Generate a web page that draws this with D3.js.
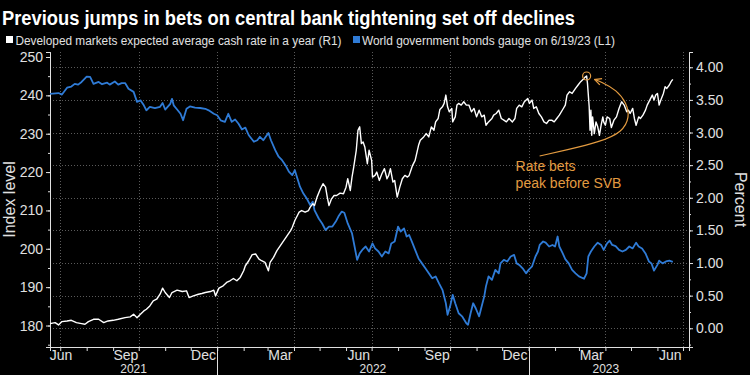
<!DOCTYPE html>
<html>
<head>
<meta charset="utf-8">
<script src="https://cdn.jsdelivr.net/npm/d3@7"></script>
<style>
  html, body { margin: 0; padding: 0; background: #000; }
  svg { display: block; }
  text { font-family: "Liberation Sans", Arial, sans-serif; }
</style>
</head>
<body>
<script>
(function () {
    'use strict';

    // ---- data (days counted from startDate) ----
    var startDate = '2021-06-19';
    var endDate = '2023-07-08';

    var rateDays = [0, 6, 10, 14, 20, 25, 31, 37, 41, 45, 51, 57, 63, 68, 74, 80, 88, 94, 98, 102,
        106, 110, 113, 117, 121, 125, 129, 132, 135, 140, 143, 149, 155, 160, 163, 168, 174, 178, 182, 188,
        192, 194, 198, 203, 207, 211, 215, 219, 223, 227, 229, 233, 237,
        241, 245, 248, 252, 256, 258, 262, 266, 270, 274, 278, 282, 284, 287, 290, 292, 295, 299, 303, 305,
        308, 310, 313, 317, 320, 323, 325, 327, 330, 333, 336, 340, 344, 347, 349, 352, 354, 356, 359, 361,
        363, 365, 367, 369, 372, 374, 377, 378, 381, 383, 386, 389, 392, 395, 397, 399, 402, 404, 407, 410,
        413, 416, 419, 421, 425, 428, 432, 434, 438, 441, 444, 447, 450, 452, 455, 457, 460, 462, 464, 466,
        468, 471, 472, 475, 477, 479, 482, 485, 488,
        491, 494, 497, 500, 503, 506, 509, 511, 514, 518, 520, 523, 526, 529, 532, 535, 538, 542, 545, 547,
        550, 553, 556, 560, 562, 565, 567, 570, 573, 576, 579, 582, 585, 588, 591, 594, 597, 601, 604, 606,
        609, 612, 616, 619, 622, 625, 627, 629, 630, 632, 633, 634, 635, 636, 638, 640, 642, 644, 646, 648,
        649, 651, 653, 656, 658, 661, 664, 667, 670, 673, 676, 678, 680, 683, 685, 687, 690, 692, 695, 698,
        700, 703, 706, 708, 710, 712, 714, 716, 719, 721, 723, 726, 728, 730];
    var rateValues = [0.071, 0.087, 0.051, 0.102, 0.112, 0.122, 0.087, 0.071, 0.061, 0.102, 0.138, 0.138, 0.087, 0.112, 0.122, 0.138, 0.163, 0.174, 0.215, 0.163,
        0.215, 0.266, 0.292, 0.343, 0.420, 0.445, 0.522, 0.615, 0.548, 0.471, 0.548, 0.584, 0.563, 0.574, 0.471, 0.497, 0.522, 0.533, 0.548, 0.563,
        0.584, 0.497, 0.615, 0.651, 0.702, 0.728, 0.763, 0.728, 0.779, 0.881, 0.958, 1.035, 1.128,
        1.138, 1.061, 1.035, 1.010, 0.881, 1.010, 1.087, 1.189, 1.266, 1.343, 1.420, 1.497, 1.548, 1.651, 1.728, 1.779, 1.804, 1.779, 1.804, 1.856,
        1.907, 1.881, 2.010, 2.138, 2.215, 2.163, 2.010, 1.881, 1.984, 2.035, 2.035, 2.071, 2.061, 2.163, 2.292, 2.112, 2.317, 2.471, 2.728, 3.035,
        3.087, 2.830, 2.856, 2.779, 2.522, 2.728, 2.574, 2.317, 2.343, 2.394, 2.266, 2.369, 2.446, 2.292, 2.343, 2.446, 2.240, 2.266, 2.010, 2.163,
        2.292, 2.343, 2.317, 2.343, 2.497, 2.574, 2.804, 2.881, 2.933, 2.984, 2.933, 3.087, 3.035, 3.163, 3.215, 3.353, 3.394, 3.446, 3.574, 3.394,
        3.318, 3.369, 3.163, 3.240, 3.420, 3.446, 3.420, 3.471, 3.420,
        3.420, 3.317, 3.369, 3.240, 3.343, 3.240, 3.266, 3.112, 3.163, 3.215, 3.266, 3.292, 3.343, 3.215, 3.189, 3.163, 3.215, 3.163, 3.215, 3.369,
        3.420, 3.394, 3.471, 3.522, 3.446, 3.497, 3.369, 3.394, 3.292, 3.240, 3.163, 3.138, 3.189, 3.189, 3.163, 3.215, 3.266, 3.353, 3.420, 3.574,
        3.625, 3.599, 3.676, 3.728, 3.779, 3.815, 3.845, 3.866, 3.753, 3.394, 3.035, 3.343, 2.958, 3.240, 2.984, 3.163, 3.087, 2.958, 3.112, 3.240,
        3.163, 3.112, 3.240, 3.215, 3.076, 3.189, 3.240, 3.369, 3.471, 3.420, 3.317, 3.343, 3.292, 3.369, 3.215, 3.112, 3.240, 3.215, 3.266, 3.343,
        3.420, 3.497, 3.574, 3.497, 3.574, 3.599, 3.420, 3.497, 3.599, 3.702, 3.676, 3.728, 3.779, 3.815];

    var bondDays = [0, 10, 14, 20, 25, 29, 33, 37, 43, 47, 51, 57, 61, 67, 70, 76, 80, 84, 88, 92,
        98, 102, 106, 110, 113, 117, 123, 129, 132, 135, 141, 143, 145, 149, 153, 156, 160, 164, 170, 176,
        182, 186, 192, 196, 200, 205, 209, 213, 217, 221, 225, 229, 233, 239,
        243, 246, 250, 256, 259, 264, 268, 272, 276, 280, 284, 287, 290, 293, 297, 301, 305, 308, 310, 315,
        319, 323, 327, 331, 335, 338, 342, 345, 349, 354, 357, 360, 363, 366, 370, 374, 378, 381, 385, 389,
        393, 397, 400, 404, 408, 411, 415, 418, 421, 425, 428, 432, 436, 440, 444, 448, 452, 456, 460, 464,
        466, 469, 472, 475, 479, 483, 488,
        490, 493, 496, 499, 503, 506, 509, 511, 514, 518, 522, 526, 528, 532, 536, 540, 544, 547, 550, 554,
        558, 561, 565, 569, 572, 574, 578, 581, 585, 589, 592, 595, 597, 601, 604, 608, 612, 616, 620, 626,
        629, 631, 634, 638, 642, 646, 649, 653, 656, 659, 663, 667, 671, 675, 679, 683, 687, 690, 694, 698,
        702, 705, 708, 712, 714, 718, 722, 726, 730];
    var bondValues = [240.4, 240.6, 240.2, 242.0, 242.3, 243.0, 242.8, 243.5, 244.9, 244.8, 243.0, 243.5, 242.9, 243.3, 242.8, 243.6, 242.8, 243.2, 243.2, 241.7,
        240.9, 238.3, 238.7, 237.4, 236.1, 237.0, 236.7, 237.0, 238.0, 236.3, 237.8, 239.1, 237.4, 236.3, 235.2, 233.5, 236.5, 237.1, 236.8, 236.7,
        236.5, 236.1, 235.2, 234.8, 233.5, 233.1, 235.2, 233.1, 233.7, 232.6, 231.1, 231.6, 229.6, 227.9,
        228.3, 229.2, 228.3, 230.2, 228.3, 225.7, 224.0, 223.1, 221.8, 220.1, 219.2, 220.5, 218.3, 216.2, 214.4, 213.1, 211.4, 212.3, 210.1, 207.9,
        206.6, 204.9, 205.8, 205.8, 207.1, 208.4, 209.7, 209.4, 206.6, 204.0, 200.6, 197.1, 198.8, 199.7, 200.6, 199.3, 201.4, 200.1, 199.3, 198.0,
        199.3, 198.8, 201.4, 201.9, 205.8, 204.5, 205.3, 203.2, 203.6, 201.4, 199.7, 197.5, 196.2, 194.9, 193.6, 192.3, 192.8, 191.0, 189.3, 185.8,
        182.8, 185.0, 188.0, 185.8, 183.2, 182.4, 180.6,
        180.2, 183.2, 185.8, 184.5, 182.4, 185.0, 187.6, 190.2, 192.8, 191.9, 194.5, 193.6, 196.2, 197.1, 196.7, 198.0, 198.4, 196.2, 195.8, 194.9,
        193.6, 194.5, 195.4, 198.0, 199.3, 201.0, 201.9, 201.6, 200.6, 201.0, 200.6, 203.2, 200.6, 198.8, 197.3, 196.2, 194.5, 193.6, 192.8, 192.2,
        193.6, 198.0, 199.3, 200.6, 201.6, 201.0, 199.7, 201.4, 202.1, 201.0, 200.7, 199.7, 199.3, 199.7, 200.6, 200.1, 201.6, 200.6, 200.1, 198.8,
        196.7, 196.2, 194.3, 195.8, 196.9, 196.2, 196.7, 196.9, 196.6];

    var leftTicks = [180, 190, 200, 210, 220, 230, 240, 250];
    var rightTicks = [0, 0.5, 1, 1.5, 2, 2.5, 3, 3.5, 4];
    var monthLabels = ['Jun', 'Sep', 'Dec', 'Mar'];
    var titleText = 'Previous jumps in bets on central bank tightening set off declines';
    var legendLabels = ['Developed markets expected average cash rate in a year (R1)',
        'World government bonds gauge on 6/19/23 (L1)'];
    var noteLines = ['Rate bets', 'peak before SVB'];

    // ---- setup ----
    var width = 750, height = 375;
    var left = 50, right = 689, top = 52, bottom = 347;
    var white = '#ffffff', blue = '#2f7bd6', orange = '#e39b40', grey = '#e0e0e0';

    var parse = d3.timeParse('%Y-%m-%d');
    var t0 = parse(startDate);
    var t1 = parse(endDate);
    function toDate(d) { return d3.timeDay.offset(t0, d); }

    var x = d3.scaleTime().domain([t0, t1]).range([left, right]);
    var yL = d3.scaleLinear().domain([174.4, 251.3]).range([bottom, top]);
    var yR = d3.scaleLinear().domain([-0.287, 4.234]).range([bottom, top]);

    var svg = d3.select('body').append('svg')
        .attr('width', width)
        .attr('height', height);
    svg.append('rect').attr('width', width).attr('height', height).attr('fill', '#000');

    // title + legend
    svg.append('text')
        .attr('x', 2).attr('y', 25)
        .attr('fill', white)
        .attr('font-size', 20).attr('font-weight', 'bold')
        .attr('textLength', 573).attr('lengthAdjust', 'spacingAndGlyphs')
        .text(titleText);

    var legendItems = [
        {sx: 6, tx: 15.5, w: 326, color: white, label: legendLabels[0]},
        {sx: 353, tx: 362, w: 253, color: blue, label: legendLabels[1]}
    ];
    var leg = svg.selectAll('g.legend').data(legendItems).enter().append('g').attr('class', 'legend');
    leg.append('rect')
        .attr('x', function (d) { return d.sx; }).attr('y', 36)
        .attr('width', 7).attr('height', 7)
        .attr('fill', function (d) { return d.color; });
    leg.append('text')
        .attr('x', function (d) { return d.tx; }).attr('y', 44.5)
        .attr('fill', grey).attr('font-size', 12.5)
        .attr('textLength', function (d) { return d.w; })
        .attr('lengthAdjust', 'spacingAndGlyphs')
        .text(function (d) { return d.label; });

    // grid
    var grid = svg.append('g').attr('stroke', '#5a5a5a').attr('stroke-dasharray', '1,2').attr('stroke-width', 1);
    grid.selectAll('line.h').data(rightTicks).enter().append('line')
        .attr('x1', left).attr('x2', right)
        .attr('y1', function (d) { return Math.round(yR(d)) + 0.5; })
        .attr('y2', function (d) { return Math.round(yR(d)) + 0.5; });
    var quarters = d3.timeMonth.range(t0, t1).filter(function (m) { return m.getMonth() % 3 === 0; });
    grid.selectAll('line.v').data(quarters).enter().append('line')
        .attr('x1', function (d) { return Math.round(x(d)) + 0.5; })
        .attr('x2', function (d) { return Math.round(x(d)) + 0.5; })
        .attr('y1', top).attr('y2', bottom);

    // axes
    function styleAxis(g) {
        g.select('.domain').attr('stroke', grey);
        g.selectAll('.tick line').attr('stroke', grey);
        g.selectAll('.tick text').attr('fill', grey).attr('font-size', 14)
            .attr('font-family', '"Liberation Sans", Arial, sans-serif');
    }

    var leftMinor = d3.range(175, 251, 5);
    svg.append('g').attr('transform', 'translate(' + left + ',0)')
        .call(d3.axisLeft(yL).tickValues(leftMinor).tickSize(2).tickFormat(''))
        .call(styleAxis);
    svg.append('g').attr('transform', 'translate(' + left + ',0)')
        .call(d3.axisLeft(yL).tickValues(leftTicks).tickSize(4).tickPadding(3).tickFormat(d3.format('d')))
        .call(styleAxis);

    var rightMinor = d3.range(-0.25, 4.2, 0.25);
    svg.append('g').attr('transform', 'translate(' + right + ',0)')
        .call(d3.axisRight(yR).tickValues(rightMinor).tickSize(2).tickFormat(''))
        .call(styleAxis);
    svg.append('g').attr('transform', 'translate(' + right + ',0)')
        .call(d3.axisRight(yR).tickValues(rightTicks).tickSize(4).tickPadding(3).tickFormat(d3.format('.2f')))
        .call(styleAxis);

    var months = d3.timeMonth.range(d3.timeMonth.ceil(t0), t1);
    svg.append('g').attr('transform', 'translate(0,' + bottom + ')')
        .call(d3.axisBottom(x).tickValues(months).tickSize(4).tickFormat(''))
        .call(styleAxis);

    // month labels centred in their month, first one kept inside the plot
    var fmtMonth = d3.timeFormat('%b');
    var labelMonths = d3.timeMonth.range(d3.timeMonth.floor(t0), t1).filter(function (m) {
        return monthLabels.indexOf(fmtMonth(m)) >= 0;
    });
    svg.append('g').selectAll('text').data(labelMonths).enter().append('text')
        .attr('x', function (m) {
            var mid = x(d3.timeDay.offset(m, 15));
            return Math.max(mid, left + 11);
        })
        .attr('y', 360)
        .attr('text-anchor', 'middle')
        .attr('fill', grey).attr('font-size', 14)
        .text(function (m) { return fmtMonth(m); });

    // year labels + separators
    var years = d3.timeYear.range(d3.timeYear.floor(t0), t1);
    var lastEdge = x(d3.timeMonth.floor(t1));
    svg.append('g').selectAll('text').data(years).enter().append('text')
        .attr('x', function (yr) {
            var a = Math.max(x(yr), left);
            var b = Math.min(x(d3.timeYear.offset(yr, 1)), lastEdge);
            return (a + b) / 2;
        })
        .attr('y', 372.5)
        .attr('text-anchor', 'middle')
        .attr('fill', grey).attr('font-size', 12)
        .text(d3.timeFormat('%Y'));
    svg.append('g').selectAll('line').data(years.filter(function (yr) { return yr > t0; })).enter().append('line')
        .attr('x1', function (yr) { return Math.round(x(yr)) + 0.5; })
        .attr('x2', function (yr) { return Math.round(x(yr)) + 0.5; })
        .attr('y1', bottom).attr('y2', height)
        .attr('stroke', grey).attr('stroke-width', 1);

    // axis titles
    svg.append('text')
        .attr('transform', 'translate(15,' + ((top + bottom) / 2) + ') rotate(-90)')
        .attr('text-anchor', 'middle')
        .attr('fill', grey).attr('font-size', 16)
        .text('Index level');
    svg.append('text')
        .attr('transform', 'translate(735,' + ((top + bottom) / 2) + ') rotate(90)')
        .attr('text-anchor', 'middle')
        .attr('fill', grey).attr('font-size', 16)
        .text('Percent');

    // lines
    var bondLine = d3.line()
        .x(function (d, i) { return x(toDate(bondDays[i])); })
        .y(function (d) { return yL(d); });
    var rateLine = d3.line()
        .x(function (d, i) { return x(toDate(rateDays[i])); })
        .y(function (d) { return yR(d); });

    svg.append('path').datum(bondValues)
        .attr('d', bondLine)
        .attr('fill', 'none').attr('stroke', blue).attr('stroke-width', 1.8)
        .attr('stroke-linejoin', 'round');
    svg.append('path').datum(rateValues)
        .attr('d', rateLine)
        .attr('fill', 'none').attr('stroke', white).attr('stroke-width', 1.4)
        .attr('stroke-linejoin', 'round');

    // annotation at the rate-bets peak
    var pi = d3.maxIndex(rateValues);
    var px = x(toDate(rateDays[pi]));
    var py = yR(rateValues[pi]);

    svg.append('circle')
        .attr('cx', px).attr('cy', py).attr('r', 4)
        .attr('fill', 'none').attr('stroke', orange).attr('stroke-width', 1.2);

    svg.append('defs').append('marker')
        .attr('id', 'arrow')
        .attr('viewBox', '0 0 10 10')
        .attr('refX', 9).attr('refY', 5)
        .attr('markerWidth', 7).attr('markerHeight', 7)
        .attr('orient', 'auto')
        .append('path')
        .attr('d', 'M1,1 L9,5 L1,9')
        .attr('fill', 'none').attr('stroke', orange).attr('stroke-width', 1.5);

    var curve = [[-47, 80], [-20, 74], [13, 66], [36, 56], [43, 41], [40, 27], [30, 14], [15, 6], [8, 3.5]];
    svg.append('path')
        .datum(curve)
        .attr('d', d3.line()
            .x(function (d) { return px + d[0]; })
            .y(function (d) { return py + d[1]; })
            .curve(d3.curveBasis))
        .attr('fill', 'none').attr('stroke', orange).attr('stroke-width', 1.2)
        .attr('marker-end', 'url(#arrow)');

    svg.append('g').selectAll('text').data(noteLines).enter().append('text')
        .attr('x', px - 71)
        .attr('y', function (d, i) { return py + 94.5 + i * 17; })
        .attr('fill', orange).attr('font-size', 14)
        .text(function (d) { return d; });
})();
</script>
</body>
</html>
